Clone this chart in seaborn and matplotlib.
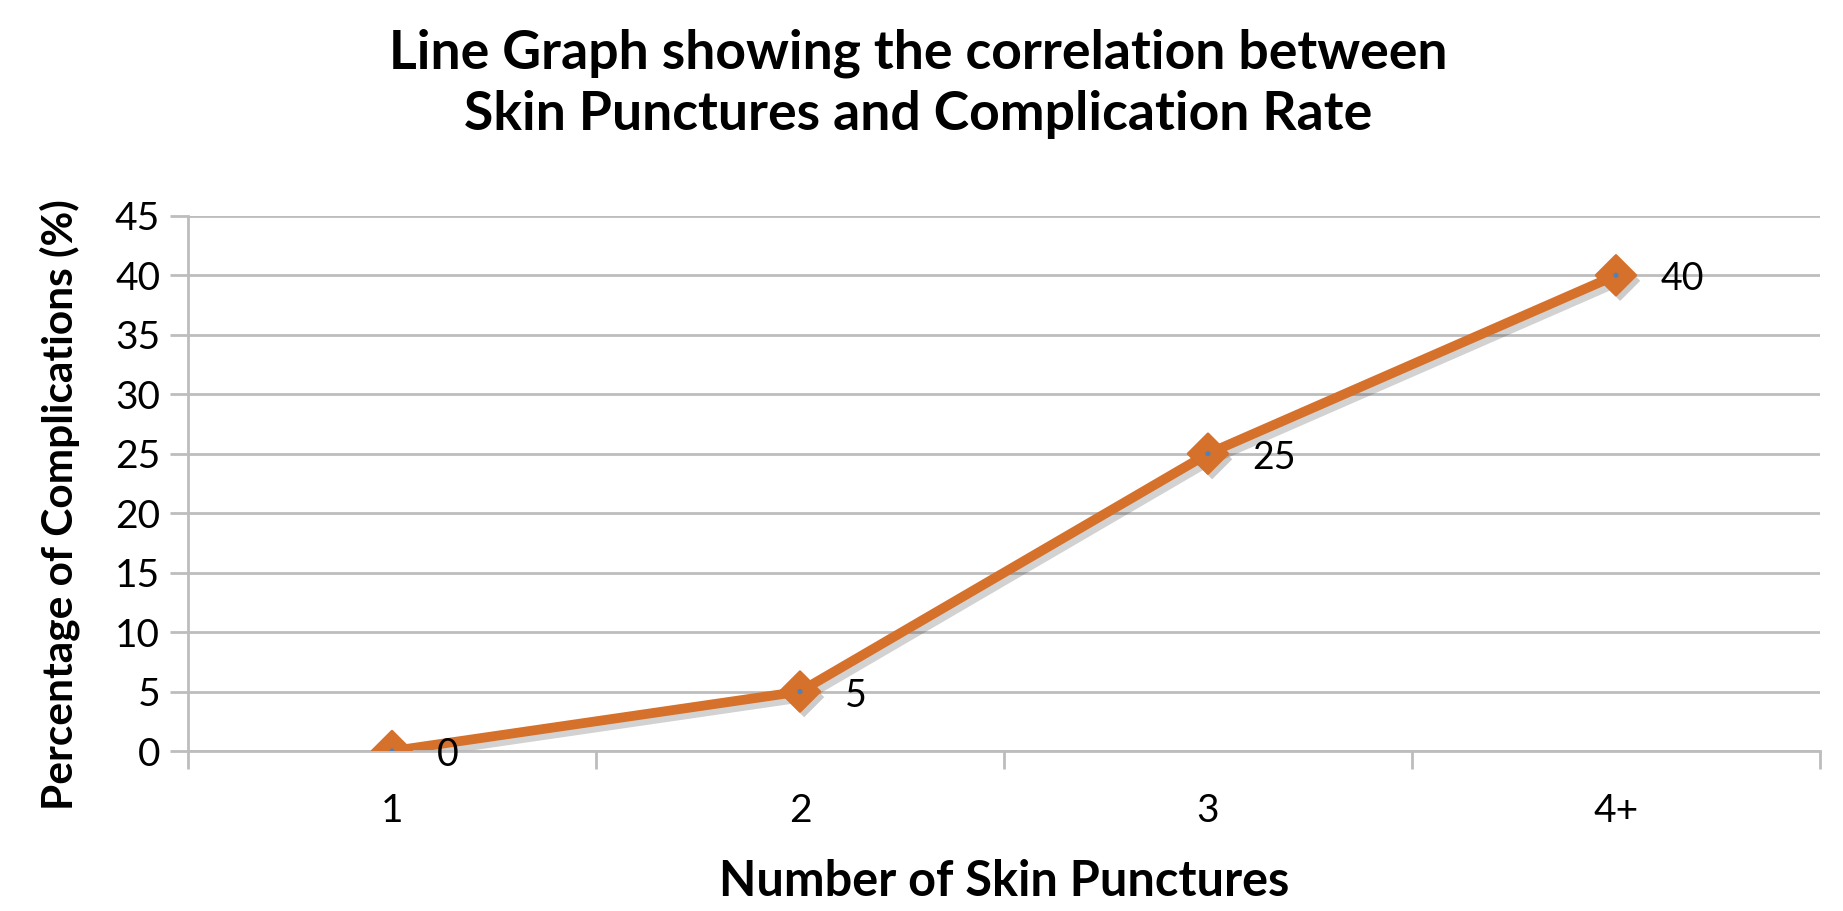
import matplotlib
matplotlib.use("Agg")
import matplotlib.pyplot as plt
import matplotlib.patheffects as pe
import seaborn as sns
import pandas as pd

# data
punctures = ["1", "2", "3", "4+"]
complications = [0, 5, 25, 40]
y_ticks = [0, 5, 10, 15, 20, 25, 30, 35, 40, 45]

df = pd.DataFrame({"punctures": punctures, "complications": complications})

sns.set_theme(style="white")
plt.rcParams['font.family'] = ['Lato', 'DejaVu Sans']
plt.rcParams['text.color'] = 'black'
plt.rcParams['axes.labelcolor'] = 'black'
plt.rcParams['xtick.color'] = 'black'
plt.rcParams['ytick.color'] = 'black'

orange = "#D5712B"
grid_col = "#BDBDBD"
shadow = [pe.SimpleLineShadow(offset=(3, -4), alpha=0.22, shadow_color="#333333"), pe.Normal()]

fig = plt.figure(figsize=(18.43, 9.11), dpi=100)
ax = fig.add_axes([0.102, 0.1756, 0.8855, 0.5875])

# line
sns.lineplot(data=df, x="punctures", y="complications", ax=ax,
             color=orange, linewidth=7, sort=False, path_effects=shadow)
# diamond markers
sns.scatterplot(data=df, x="punctures", y="complications", ax=ax,
                color=orange, marker="D", s=420, edgecolor=orange, zorder=4,
                path_effects=[pe.SimplePatchShadow(offset=(3, -4), alpha=0.25, shadow_rgbFace="#333333"),
                              pe.Normal()])
# small blue centre dots
sns.scatterplot(data=df, x="punctures", y="complications", ax=ax,
                color="#4F81BD", s=14, edgecolor="none", zorder=5)

for i, v in enumerate(complications):
    ax.annotate(str(v), (i, v), xytext=(32, -3), textcoords="offset points",
                fontsize=27, va="center", ha="left", color="black")

ax.set_xlim(-0.5, len(punctures) - 0.5)
ax.set_ylim(0, 45)
ax.set_yticks(y_ticks)
ax.yaxis.grid(True, color=grid_col, linewidth=2)
ax.set_axisbelow(True)
for s in ["top", "right"]:
    ax.spines[s].set_visible(False)
for s in ["left", "bottom"]:
    ax.spines[s].set_color(grid_col)
    ax.spines[s].set_linewidth(2)

ax.tick_params(axis="y", which="major", direction="out", length=13, width=2,
               color=grid_col, labelcolor="black", labelsize=28, pad=7, left=True)
ax.set_xticks(range(len(punctures)))
ax.set_xticklabels(punctures)
ax.tick_params(axis="x", which="major", length=0, labelsize=28, pad=30, labelcolor="black")
ax.set_xticks([i - 0.5 for i in range(len(punctures) + 1)], minor=True)
ax.tick_params(axis="x", which="minor", direction="out", length=13, width=2,
               color=grid_col, bottom=True)

ax.set_xlabel("Number of Skin Punctures", fontsize=35, fontweight="bold", labelpad=22)
ax.set_ylabel("Percentage of Complications (%)", fontsize=30.5, fontweight="bold")
ax.yaxis.set_label_coords(-0.066, 0.46)

fig.text(0.498, 0.908, "Line Graph showing the correlation between\nSkin Punctures and Complication Rate",
         ha="center", va="center", fontsize=38.5, fontweight="bold", linespacing=1.3)

fig.savefig("out.png", dpi=100)
